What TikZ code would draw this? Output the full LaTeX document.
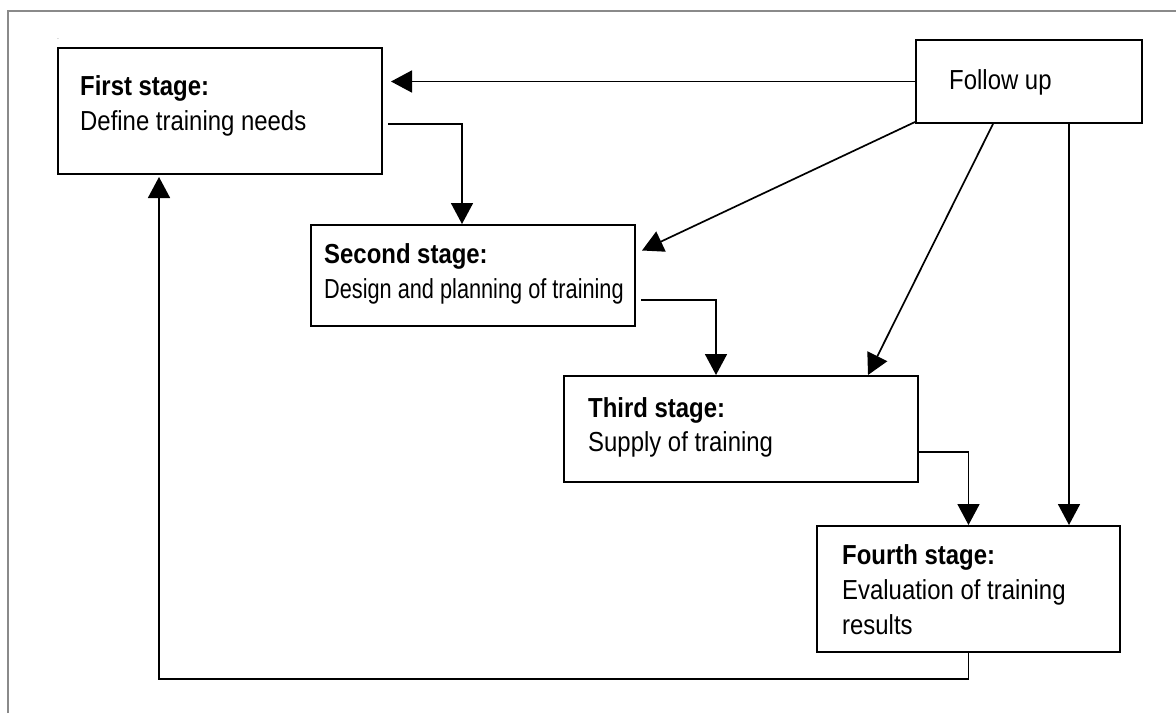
\documentclass[tikz,border=0pt]{standalone}
\usepackage{fontspec}
\setmainfont{Liberation Sans}[FakeStretch=0.87]
\newfontfamily\narrowfont{Liberation Sans}[FakeStretch=0.79]
\usetikzlibrary{arrows.meta}
\definecolor{framegray}{HTML}{8A8A8A}
\tikzset{
  box/.style={draw=black, line width=2pt, rectangle, inner sep=0pt},
  txt/.style={anchor=base west, inner sep=0pt, font=\fontsize{27.5}{34}\selectfont},
  btxt/.style={txt, font=\fontsize{27.5}{34}\selectfont\bfseries},
  arr/.style={line width=1.7pt, -{Triangle[length=21pt,width=22pt]}},
}
\begin{document}
\begin{tikzpicture}[x=1pt,y=-1pt]
\useasboundingbox (0,0) rectangle (1176,713);
% frame (top and left only visible)
\draw[framegray, line width=1.5pt] (8,713) -- (8,11) -- (1176,11);
\node[inner sep=0pt, anchor=base, text=framegray, font=\fontsize{8}{8}\selectfont] (dot) at (58,39) {.};

% boxes
\node[box, minimum width=324pt, minimum height=126pt] (b1) at (220,111) {};
\node[box, minimum width=226pt, minimum height=83pt] (fu) at (1029,81.5) {};
\node[box, minimum width=324pt, minimum height=101pt] (b2) at (473,275.5) {};
\node[box, minimum width=354pt, minimum height=106pt] (b3) at (741,429) {};
\node[box, minimum width=303pt, minimum height=126pt] (b4) at (968.5,589) {};

% texts
\node[btxt] (t1a) at (80,95) {First stage:};
\node[txt] (t1b) at (80,130) {Define training needs};
\node[txt] (tfu) at (949,89) {Follow up};
\node[btxt] (t2a) at (324,263) {Second stage:};
\node[txt, font=\fontsize{27.5}{34}\selectfont\narrowfont] (t2b) at (324,298) {Design and planning of training};
\node[btxt] (t3a) at (588,417) {Third stage:};
\node[txt] (t3b) at (588,451) {Supply of training};
\node[btxt] (t4a) at (842,564) {Fourth stage:};
\node[txt] (t4b) at (842,599) {Evaluation of training};
\node[txt] (t4c) at (842,634) {results};

% connectors
\draw[arr, shorten >=8pt] (fu.west) -- (b1.east |- fu.west);
\draw[arr] ([shift={(5,13)}]b1.east) -| ([xshift=-11pt]b2.north);
\draw[arr] ([shift={(0,-2)}]fu.south west) -- ([shift={(6,-25)}]b2.east);
\draw[arr] ([shift={(5,24.5)}]b2.east) -| ([xshift=-25pt]b3.north);
\draw[arr] ([xshift=-36pt]fu.south) -- ([xshift=127pt]b3.north);
\draw[arr] ([shift={(0,23)}]b3.east) -| (b4.north);
\draw[arr] ([xshift=40pt]fu.south) -- ([xshift=40pt]fu.south |- b4.north);
\draw[arr, shorten >=2pt] (b4.south) -- ++(0,26) -| ([xshift=-61pt]b1.south);
\end{tikzpicture}
\end{document}
